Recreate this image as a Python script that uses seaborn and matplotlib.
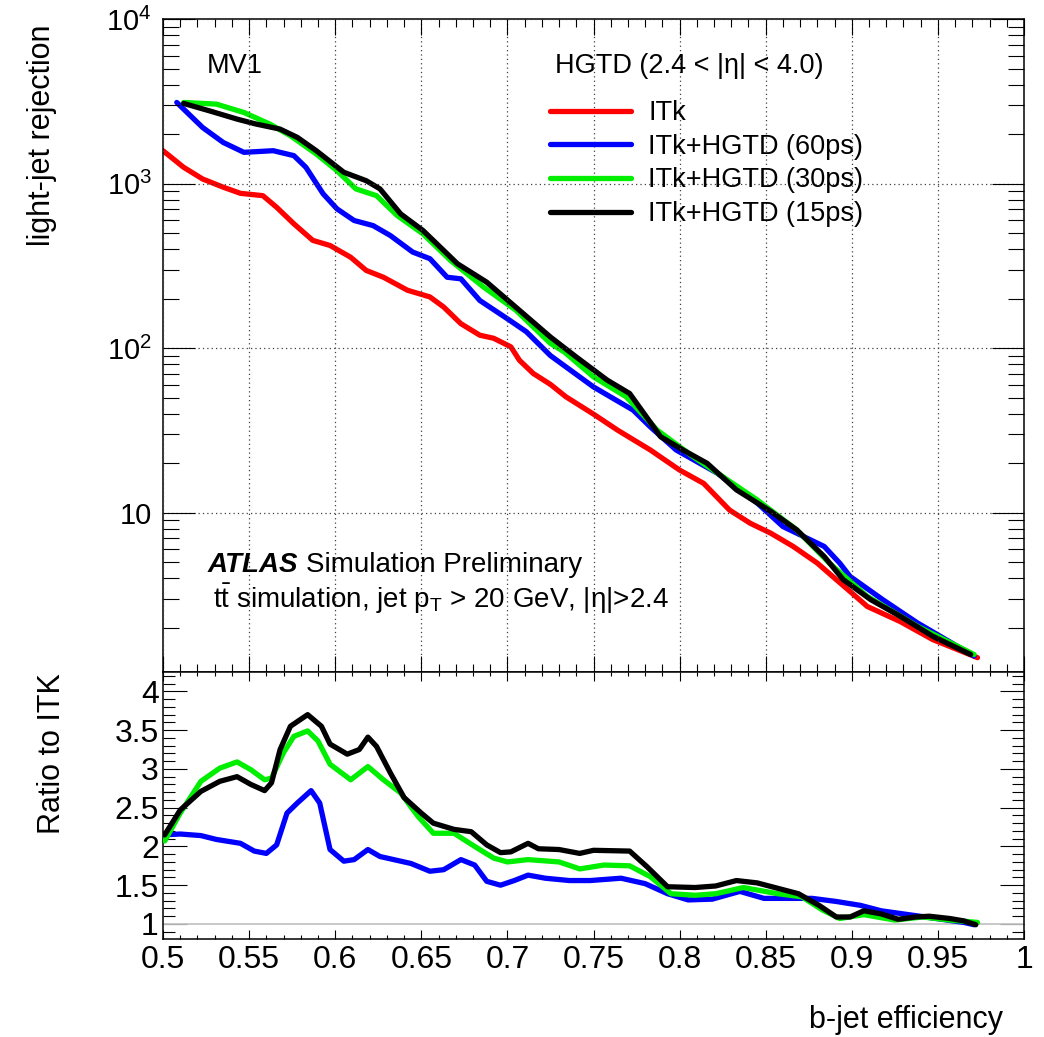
import numpy as np
import pandas as pd
import matplotlib
matplotlib.use("Agg")
import matplotlib.pyplot as plt
import seaborn as sns
from matplotlib.ticker import MultipleLocator, FixedLocator, FuncFormatter, LogLocator, NullFormatter
from matplotlib.lines import Line2D

# ---------------- data ----------------
itk_eff = [0.500, 0.512, 0.523, 0.535, 0.545, 0.558, 0.566, 0.576, 0.587, 0.597, 0.609, 0.618,
           0.628, 0.642, 0.655, 0.663, 0.673, 0.684, 0.692, 0.702, 0.707, 0.715, 0.725, 0.734,
           0.750, 0.764, 0.783, 0.800, 0.814, 0.829, 0.841, 0.853, 0.866, 0.880, 0.891, 0.899,
           0.909, 0.928, 0.947, 0.973]
itk_rej = [1585, 1256, 1067, 951, 873, 845, 718, 570, 452, 421, 357, 297,
           270, 225, 205, 178, 141, 120, 115, 102, 84.5, 70.3, 60.3, 50.7,
           39.8, 31.8, 24.1, 18.2, 15.1, 10.4, 8.65, 7.52, 6.25, 4.95, 3.93, 3.33,
           2.70, 2.19, 1.70, 1.32]

h60_eff = [0.508, 0.516, 0.523, 0.535, 0.547, 0.564, 0.576, 0.583, 0.593, 0.601, 0.611, 0.622,
           0.632, 0.645, 0.655, 0.665, 0.673, 0.684, 0.700, 0.711, 0.725, 0.750, 0.773, 0.783,
           0.798, 0.822, 0.845, 0.860, 0.884, 0.893, 0.899, 0.918, 0.938, 0.971]
h60_rej = [3112, 2582, 2193, 1778, 1549, 1585, 1479, 1256, 867, 703, 597, 556,
           484, 384, 350, 270, 264, 195, 151, 126, 90.2, 58.2, 42.1, 33.3,
           24.1, 17.4, 11.5, 8.26, 6.25, 4.95, 4.11, 2.97, 2.15, 1.35]

h30_eff = [0.512, 0.531, 0.547, 0.562, 0.574, 0.589, 0.601, 0.612, 0.624, 0.636, 0.651, 0.667,
           0.686, 0.705, 0.725, 0.733, 0.750, 0.769, 0.787, 0.808, 0.845, 0.868, 0.887, 0.909,
           0.938, 0.971]
h30_rej = [3112, 3041, 2704, 2301, 1954, 1514, 1199, 929, 845, 640, 495, 341,
           236, 170, 107, 95, 67, 50.7, 31.8, 21.9, 12.0, 7.89, 4.95, 3.11,
           2.05, 1.38]

h15_eff = [0.512, 0.527, 0.543, 0.554, 0.568, 0.578, 0.589, 0.605, 0.618, 0.626, 0.638, 0.651,
           0.671, 0.688, 0.707, 0.725, 0.740, 0.758, 0.771, 0.789, 0.802, 0.816, 0.833, 0.853,
           0.868, 0.884, 0.895, 0.911, 0.928, 0.947, 0.969]
h15_rej = [3069, 2767, 2466, 2301, 2143, 1910, 1585, 1172, 1042, 929, 655, 519,
           326, 252, 170, 117, 88.5, 64, 53.1, 29.0, 24.1, 20.0, 13.8, 10.2,
           7.89, 5.43, 3.93, 2.97, 2.36, 1.78, 1.38]

# ratio to ITk
r60_eff = [0.501, 0.510, 0.522, 0.531, 0.545, 0.553, 0.560, 0.566, 0.572, 0.578, 0.586, 0.591,
           0.597, 0.605, 0.611, 0.619, 0.626, 0.634, 0.644, 0.655, 0.663, 0.673, 0.681, 0.688,
           0.696, 0.704, 0.712, 0.722, 0.736, 0.748, 0.766, 0.780, 0.793, 0.805, 0.819, 0.835,
           0.849, 0.863, 0.877, 0.891, 0.905, 0.917, 0.933, 0.949, 0.965, 0.971]
r60_val = [2.15, 2.16, 2.14, 2.09, 2.04, 1.94, 1.91, 2.02, 2.43, 2.56, 2.72, 2.56,
           1.96, 1.81, 1.83, 1.96, 1.87, 1.83, 1.78, 1.68, 1.70, 1.83, 1.76, 1.55,
           1.50, 1.56, 1.63, 1.59, 1.56, 1.56, 1.59, 1.52, 1.39, 1.31, 1.32, 1.42,
           1.33, 1.33, 1.33, 1.29, 1.24, 1.17, 1.12, 1.07, 1.02, 0.99]

r30_eff = [0.501, 0.510, 0.522, 0.533, 0.543, 0.551, 0.559, 0.563, 0.570, 0.576, 0.584, 0.590,
           0.597, 0.609, 0.619, 0.628, 0.638, 0.648, 0.657, 0.669, 0.681, 0.692, 0.700, 0.712,
           0.730, 0.742, 0.756, 0.771, 0.783, 0.795, 0.809, 0.821, 0.837, 0.857, 0.871, 0.883,
           0.893, 0.907, 0.925, 0.941, 0.957, 0.973]
r30_val = [2.07, 2.43, 2.84, 3.01, 3.09, 2.99, 2.86, 2.88, 3.21, 3.42, 3.49, 3.36,
           3.06, 2.86, 3.03, 2.86, 2.69, 2.39, 2.17, 2.17, 2.00, 1.85, 1.80, 1.83,
           1.80, 1.71, 1.76, 1.75, 1.61, 1.39, 1.37, 1.39, 1.47, 1.39, 1.35, 1.18,
           1.07, 1.12, 1.05, 1.09, 1.05, 1.02]

r15_eff = [0.501, 0.510, 0.522, 0.533, 0.543, 0.551, 0.559, 0.563, 0.568, 0.574, 0.584, 0.592,
           0.597, 0.607, 0.614, 0.619, 0.624, 0.632, 0.640, 0.650, 0.657, 0.669, 0.679, 0.688,
           0.696, 0.702, 0.712, 0.718, 0.730, 0.742, 0.750, 0.771, 0.781, 0.793, 0.809, 0.821,
           0.833, 0.845, 0.857, 0.869, 0.881, 0.891, 0.899, 0.907, 0.917, 0.927, 0.937, 0.945,
           0.957, 0.965, 0.972]
r15_val = [2.15, 2.47, 2.71, 2.84, 2.90, 2.80, 2.72, 2.82, 3.25, 3.55, 3.70, 3.55,
           3.32, 3.19, 3.25, 3.41, 3.29, 2.95, 2.63, 2.43, 2.30, 2.22, 2.19, 2.02,
           1.92, 1.93, 2.04, 1.97, 1.96, 1.91, 1.95, 1.94, 1.74, 1.48, 1.47, 1.49,
           1.56, 1.53, 1.46, 1.39, 1.24, 1.09, 1.09, 1.17, 1.13, 1.06, 1.09, 1.10,
           1.07, 1.04, 0.99]

labels = ["ITk", "ITk+HGTD (60ps)", "ITk+HGTD (30ps)", "ITk+HGTD (15ps)"]
colors = ["#ff0000", "#0000ff", "#00ee00", "#000000"]
xticks = [0.5, 0.55, 0.6, 0.65, 0.7, 0.75, 0.8, 0.85, 0.9, 0.95, 1.0]
ratio_yticks = [1, 1.5, 2, 2.5, 3, 3.5, 4]

# ---------------- style ----------------
sns.set_style("ticks")
plt.rcParams["font.family"] = ["Liberation Sans", "DejaVu Sans"]
plt.rcParams["mathtext.fontset"] = "custom"
plt.rcParams["mathtext.rm"] = "Liberation Sans"
plt.rcParams["mathtext.it"] = "Liberation Sans:italic"
plt.rcParams["mathtext.bf"] = "Liberation Sans:bold"
for k in ("text.color", "axes.labelcolor", "xtick.color", "ytick.color", "axes.edgecolor"):
    plt.rcParams[k] = "black"

W, H = 1044, 1037
fig = plt.figure(figsize=(W / 100, H / 100), dpi=100)
fig.patch.set_facecolor("white")

def fx(px):
    return px / W

def fy(py):
    return 1 - py / H

ax1 = fig.add_axes([fx(163), fy(672), 861 / W, 653 / H])
ax2 = fig.add_axes([fx(163), fy(939), 861 / W, 267 / H])

LW = 3.8
top_sets = [(itk_eff, itk_rej), (h60_eff, h60_rej), (h30_eff, h30_rej), (h15_eff, h15_rej)]
for (xe, yv), lab, c in zip(top_sets, labels, colors):
    df = pd.DataFrame({"eff": xe, "rej": yv})
    sns.lineplot(data=df, x="eff", y="rej", ax=ax1, color=c, lw=LW, estimator=None,
                 sort=False, legend=False, solid_joinstyle="round", solid_capstyle="round")

ratio_sets = [(r60_eff, r60_val), (r30_eff, r30_val), (r15_eff, r15_val)]
ax2.axhline(1, color="#c4c4c4", lw=1.3, zorder=1)
for (xe, yv), c in zip(ratio_sets, colors[1:]):
    df = pd.DataFrame({"eff": xe, "ratio": yv})
    sns.lineplot(data=df, x="eff", y="ratio", ax=ax2, color=c, lw=LW, estimator=None,
                 sort=False, legend=False, zorder=3, solid_joinstyle="round",
                 solid_capstyle="round")

# ---------------- axes ----------------
ax1.set_yscale("log")
ax1.set_xlim(0.5, 1.0)
ax1.set_ylim(1.08, 1e4)
ax2.set_xlim(0.5, 1.0)
ax2.set_ylim(0.806, 4.25)

for ax in (ax1, ax2):
    ax.set_xlabel("")
    ax.set_ylabel("")
    for s in ax.spines.values():
        s.set_linewidth(1.1)
        s.set_color("black")
    ax.xaxis.set_major_locator(FixedLocator(xticks))
    ax.xaxis.set_minor_locator(MultipleLocator(0.01))
    ax.tick_params(which="both", direction="in", top=True, right=True, color="black",
                   labelcolor="black", width=0.8)

ax1.yaxis.set_major_locator(FixedLocator([10, 100, 1000, 10000]))
ax1.yaxis.set_minor_locator(LogLocator(base=10, subs=np.arange(2, 10)))
ax1.yaxis.set_minor_formatter(NullFormatter())
ax1.yaxis.set_major_formatter(FuncFormatter(
    lambda v, p: "10" if abs(v - 10) < 1e-6 else r"$\mathregular{10^{%d}}$" % round(np.log10(v))))
ax1.tick_params(axis="x", which="major", length=11.5, labelbottom=False)
ax1.tick_params(axis="x", which="minor", length=5.8)
ax1.tick_params(axis="y", which="major", length=23, labelsize=21, pad=8)
ax1.tick_params(axis="y", which="minor", length=11.5)
ax1.grid(which="major", axis="both", linestyle=(0, (1, 2.5)), color="#404040", lw=0.9)
ax1.set_axisbelow(False)

ax2.yaxis.set_major_locator(FixedLocator(ratio_yticks))
ax2.yaxis.set_minor_locator(MultipleLocator(0.1))
fmt = FuncFormatter(lambda v, p: "%g" % v)
ax2.xaxis.set_major_formatter(fmt)
ax2.yaxis.set_major_formatter(fmt)
ax2.tick_params(axis="x", which="major", length=6.5, labelsize=23, pad=4)
ax2.tick_params(axis="x", which="minor", length=3.2)
ax2.tick_params(axis="y", which="major", length=17, labelsize=23, pad=3)
ax2.tick_params(axis="y", which="minor", length=8.6)
ax2.grid(False)

# ---------------- texts ----------------
fig.text(fx(42), fy(25), "light-jet rejection", rotation=90, ha="center", va="top", fontsize=22)
fig.text(fx(52), fy(673), "Ratio to ITK", rotation=90, ha="center", va="top", fontsize=22)
fig.text(fx(1003), fy(1020), "b-jet efficiency", ha="right", va="center", fontsize=22)

fig.text(fx(207), fy(73), "MV1", ha="left", va="baseline", fontsize=19.5)
fig.text(fx(555), fy(73), "HGTD (2.4 < |η| < 4.0)", ha="left", va="baseline", fontsize=19.5)
fig.text(fx(208), fy(572), "ATLAS", ha="left", va="baseline", fontsize=20,
         fontweight="bold", fontstyle="italic")
fig.text(fx(306), fy(572), "Simulation Preliminary", ha="left", va="baseline", fontsize=20)
fig.text(fx(213), fy(608), r"$\mathregular{t\bar{t}}$ simulation, jet $\mathregular{p_{T}}$ > 20 GeV, |η|>2.4",
         ha="left", va="baseline", fontsize=20)

handles = [Line2D([], [], color=c, lw=LW) for c in colors]
leg = ax1.legend(handles, labels, loc="upper left", bbox_to_anchor=(fx(550), fy(100)),
                 bbox_transform=fig.transFigure, frameon=False, fontsize=19.5,
                 handlelength=3.0, handletextpad=0.63, labelspacing=0.285,
                 borderpad=0, borderaxespad=0)

fig.savefig("out.png", dpi=100, facecolor="white")
